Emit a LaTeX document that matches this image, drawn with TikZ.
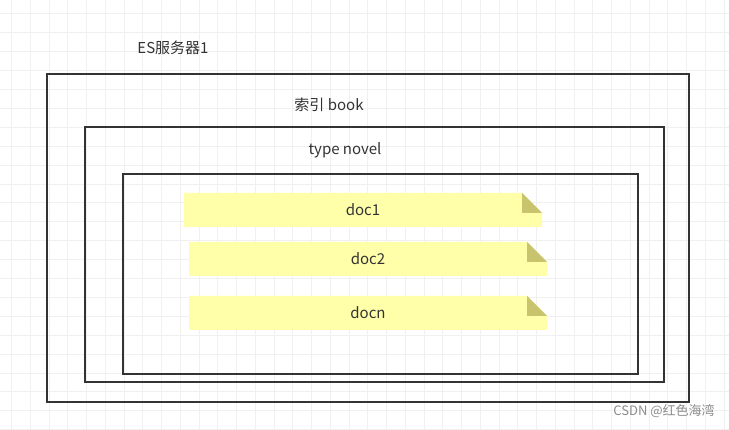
\documentclass[tikz,border=0pt]{standalone}
\usepackage{fontspec}
\setmainfont{Noto Sans CJK SC}
\definecolor{notey}{HTML}{FFFFAA}
\definecolor{foldy}{HTML}{C8C46E}
\begin{document}
\begin{tikzpicture}[x=1pt,y=-1pt,
  box/.style={draw=black!80,line width=2.3pt},
  lbl/.style={font=\fontsize{15}{18}\selectfont,text=black!80,inner sep=0},
  note/.style={fill=notey}]
\useasboundingbox (0,0) rectangle (729,430);
\fill[white] (0,0) rectangle (729,430);
\foreach \i in {0,...,39} {
  \pgfmathsetmacro\xx{11.5+18.75*\i}
  \draw[black!6,line width=1pt] (\xx,0) -- (\xx,430);
}
\foreach \i in {0,...,22} {
  \pgfmathsetmacro\yy{14+18.9*\i}
  \draw[black!6,line width=1pt] (0,\yy) -- (729,\yy);
}
\node[box,minimum width=642,minimum height=328,anchor=north west] (srv) at (46,73) {};
\node[box,minimum width=579,minimum height=255,anchor=north west] (idx) at (84,126) {};
\node[box,minimum width=515,minimum height=200,anchor=north west] (typ) at (122,173) {};
\node[lbl] (l1) at (173,48) {ES服务器1};
\node[lbl] (l2) at (329,105) {索引 book};
\node[lbl] (l3) at (345,150) {type novel};
\foreach \n/\x/\y/\t in {d1/184/193/doc1,d2/189/242/doc2,dn/189/296/docn}{
  \fill[note] (\x,\y) -- ++(338,0) -- ++(20,20) -- ++(0,14) -- ++(-358,0) -- cycle;
  \fill[foldy] (\x+338,\y) -- ++(0,20) -- ++(20,0) -- cycle;
  \node[lbl] (\n) at (\x+179,\y+17) {\t};
}
\node[lbl,text=black!45,font=\fontsize{13}{16}\selectfont] (wm) at (664,411) {CSDN @红色海湾};
\end{tikzpicture}
\end{document}
